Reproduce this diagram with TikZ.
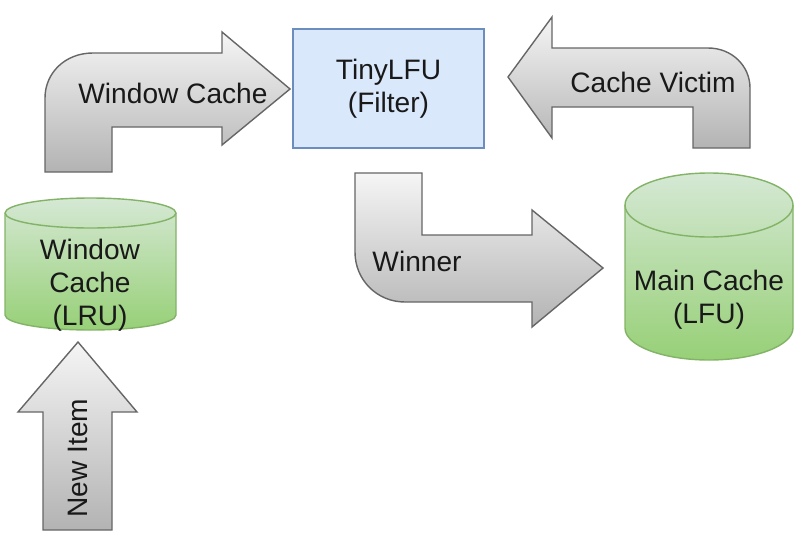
\documentclass[tikz,border=0pt]{standalone}
\usepackage{fontspec}
\setmainfont{Liberation Sans}
\usepackage{xcolor}
\usetikzlibrary{positioning}
\definecolor{arrowTop}{HTML}{F5F5F5}
\definecolor{arrowBot}{HTML}{B3B3B3}
\definecolor{arrowLine}{HTML}{666666}
\definecolor{cacheTop}{HTML}{D5E8D4}
\definecolor{cacheBot}{HTML}{97D077}
\definecolor{cacheLine}{HTML}{82B366}
\definecolor{filterFill}{HTML}{DAE8FC}
\definecolor{filterLine}{HTML}{6C8EBF}

\begin{document}
\begin{tikzpicture}[
  x=0.025cm, y=-0.025cm,
  every node/.style={font=\fontsize{20}{23.5}\selectfont, text=black!90, align=center},
  blockarrow/.style={draw=arrowLine, line width=1pt, top color=arrowTop, bottom color=arrowBot},
  cachebody/.style={draw=cacheLine, line width=1pt, top color=cacheTop, bottom color=cacheBot}
]
\useasboundingbox (0,0) rectangle (800,539);

% ── TinyLFU filter ────────────────────────────────────────────────────────
\node[draw=filterLine, fill=filterFill, line width=1pt,
      minimum width=4.775cm, minimum height=2.975cm] (filter) at (388.5,88.5)
  {TinyLFU\\(Filter)};

% ── Window cache (LRU) cylinder ──────────────────────────────────────────
\path[cachebody] (5,213) -- (5,315)
  arc[start angle=180, end angle=0, x radius=85.5, y radius=15]
  -- (176,213)
  arc[start angle=0, end angle=-180, x radius=85.5, y radius=15] -- cycle;
\draw[cacheLine, line width=1pt] (5,213)
  arc[start angle=180, end angle=0, x radius=85.5, y radius=15];
\node (wincache) at (90,285) {Window\\Cache\\(LRU)};

% ── Main cache (LFU) cylinder ────────────────────────────────────────────
\path[cachebody] (625,205) -- (625,328)
  arc[start angle=180, end angle=0, x radius=84, y radius=32]
  -- (793,205)
  arc[start angle=0, end angle=-180, x radius=84, y radius=32] -- cycle;
\draw[cacheLine, line width=1pt] (625,205)
  arc[start angle=180, end angle=0, x radius=84, y radius=32];
\node (maincache) at (709,300) {Main Cache\\(LFU)};

% ── Bent arrow: window cache -> filter ───────────────────────────────────
\path[blockarrow] (112,172) -- (45,172) -- (45,98) .. controls (45,73) and (65,53) .. (93,53)
  -- (222,53) -- (222,32) -- (290,89) -- (222,145) -- (222,127) -- (112,127) -- cycle;
\node (lblwindow) at (173,93) {Window Cache};

% ── Bent arrow: main cache victim -> filter ──────────────────────────────
\path[blockarrow] (693,148) -- (750,148) -- (750,88) .. controls (750,66) and (732,48) .. (708,48)
  -- (552,48) -- (552,17) -- (508,77) -- (552,138) -- (552,107) -- (693,107) -- cycle;
\node (lblvictim) at (653,82) {Cache Victim};

% ── Bent arrow: filter -> main cache ─────────────────────────────────────
\path[blockarrow] (355,173) -- (422,173) -- (422,235) -- (532,235) -- (532,210)
  -- (603,268) -- (532,327) -- (532,302) -- (405,302) .. controls (377,302) and (355,280) .. (355,252) -- cycle;
\node (lblwinner) at (417,261) {Winner};

% ── Up arrow: new item ───────────────────────────────────────────────────
\path[blockarrow] (43,530) -- (43,412) -- (18,412) -- (78,342) -- (137,412)
  -- (112,412) -- (112,530) -- cycle;
\node[rotate=90] (lblnew) at (78,458) {New Item};

\end{tikzpicture}
\end{document}
